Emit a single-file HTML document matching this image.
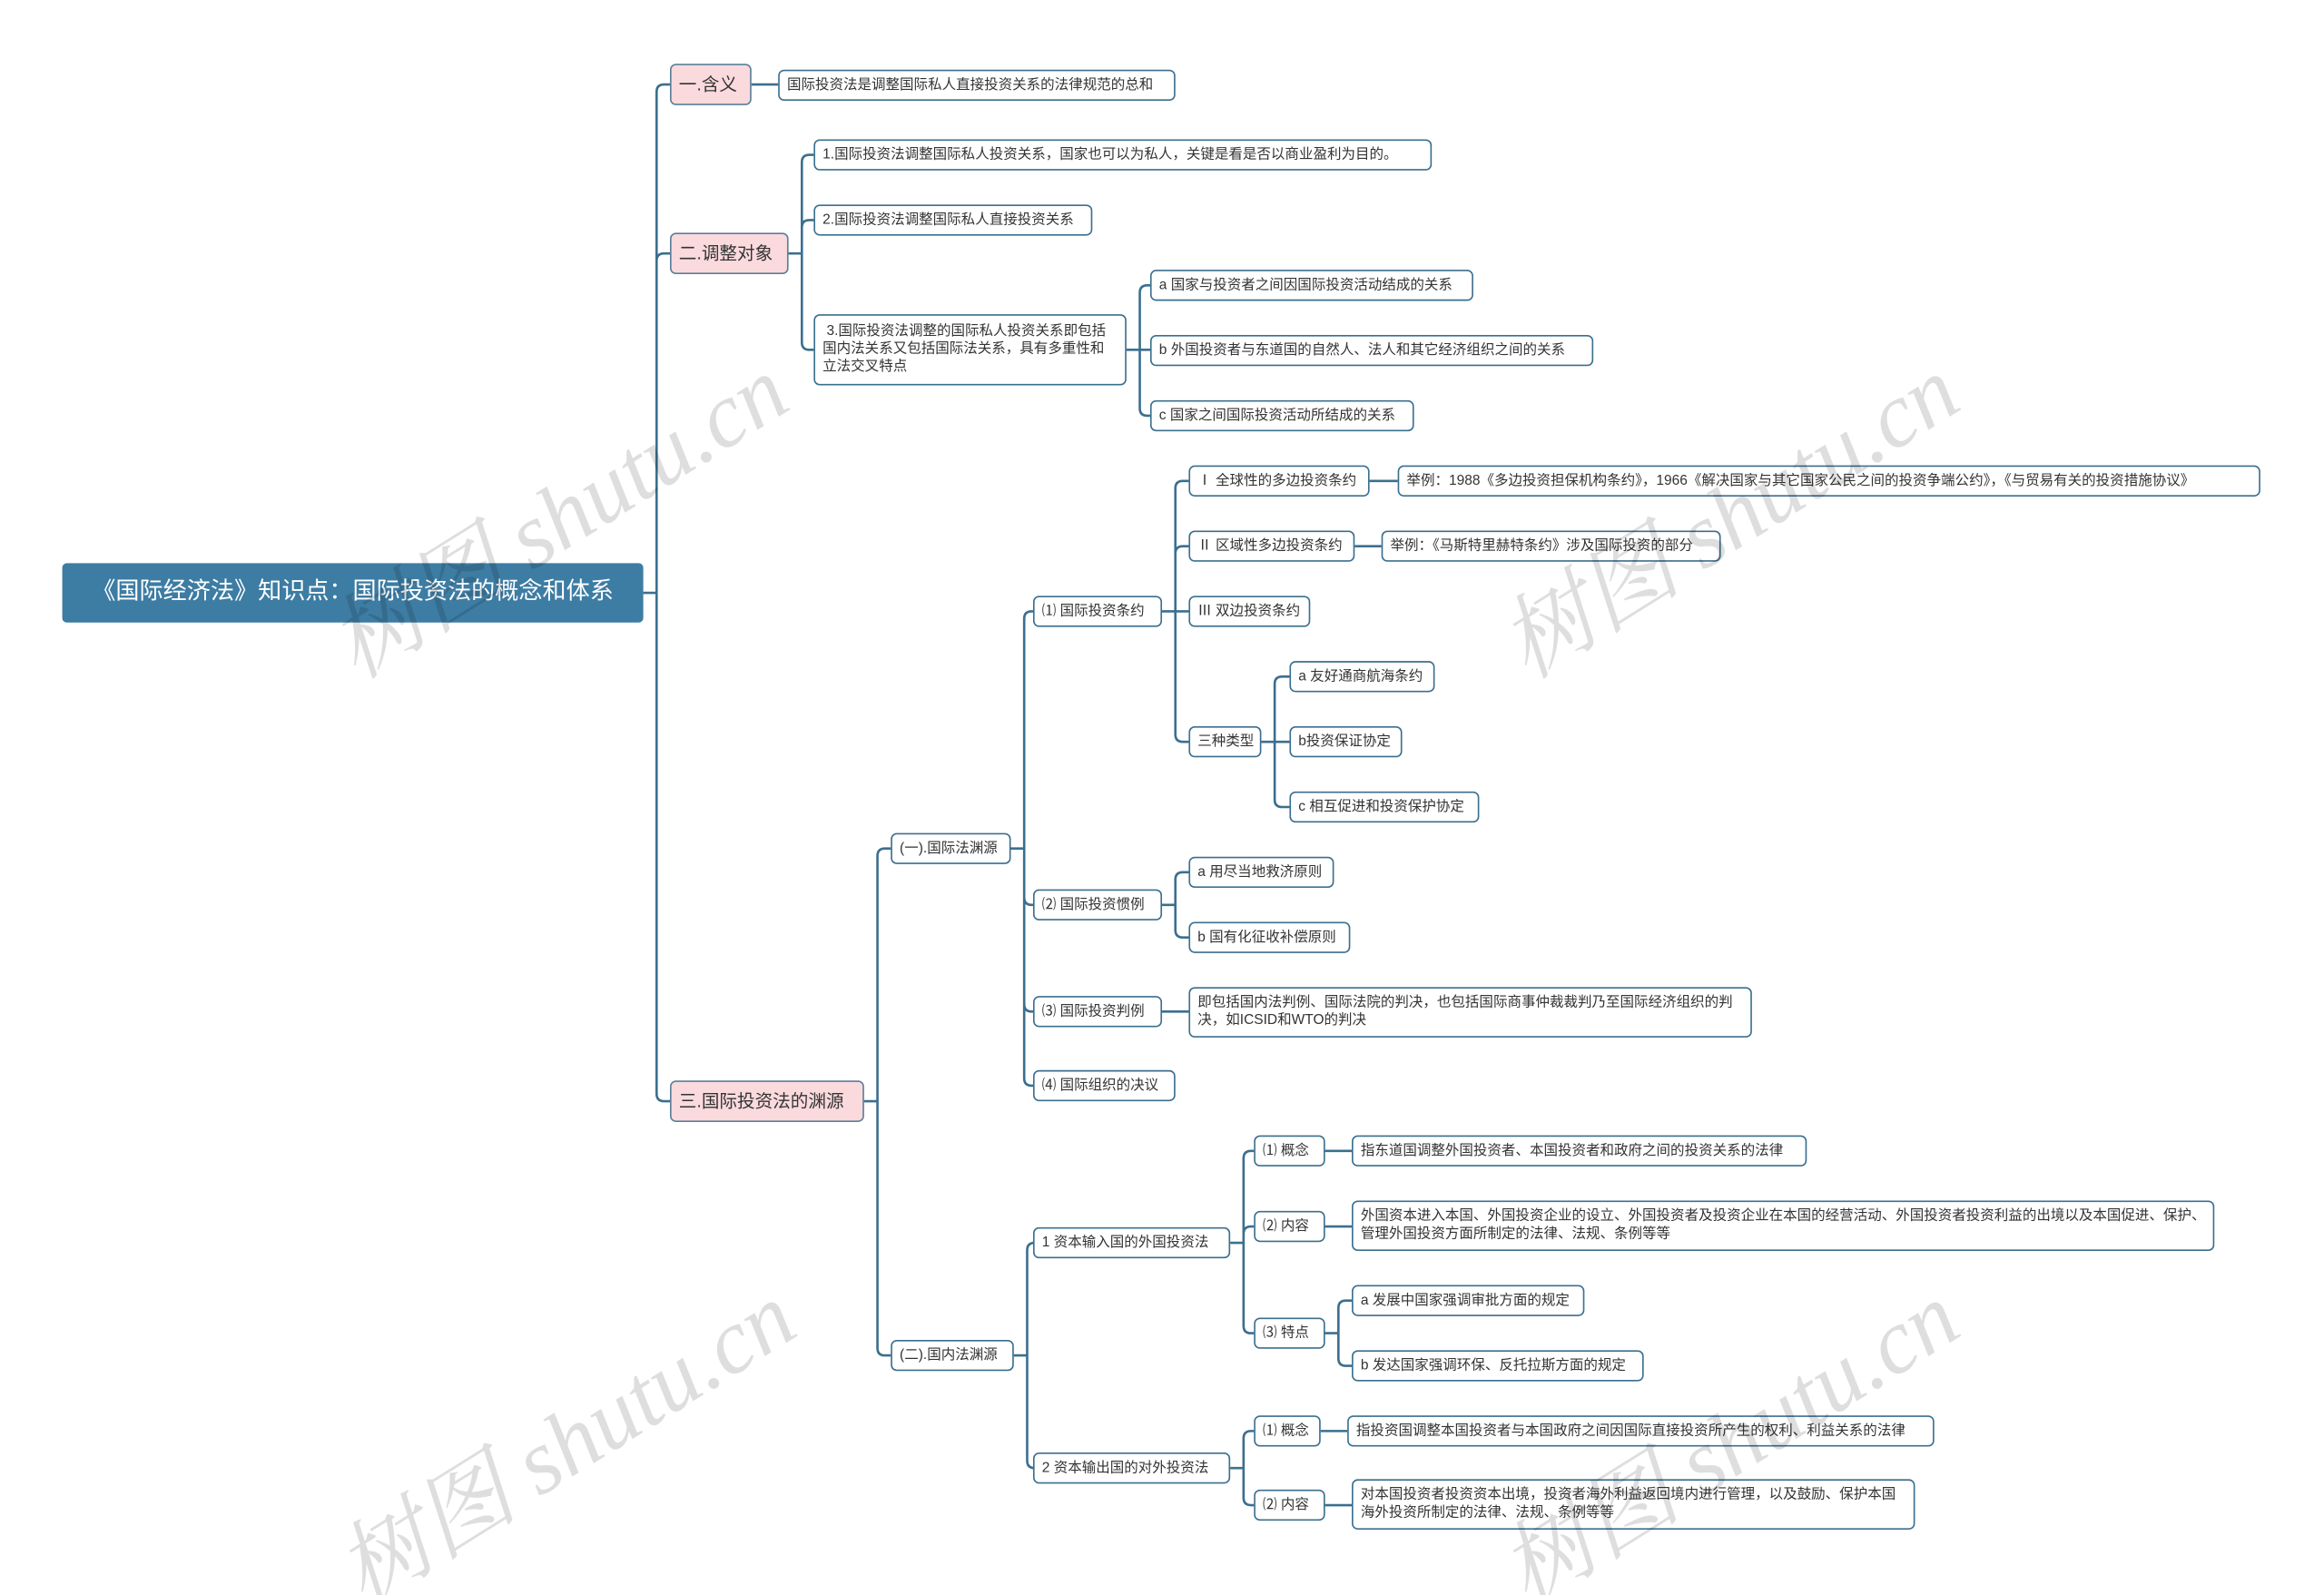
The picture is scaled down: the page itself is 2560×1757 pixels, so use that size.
<!DOCTYPE html>
<html><head><meta charset="utf-8">
<style>
html,body{margin:0;padding:0;background:#fff;}
#wrap{position:absolute;left:0;top:0;width:2560px;height:1757px;overflow:hidden;}
#c{position:absolute;left:0;top:0;width:1568px;height:1076px;transform:scale(1.6327);transform-origin:0 0;font-family:"Liberation Sans","Noto Sans CJK SC",sans-serif;}
.n{position:absolute;box-sizing:border-box;border:1px solid #3b6f8f;border-radius:4px;background:#fff;color:#333;font-size:9.5px;line-height:12px;padding:0 5px;display:flex;align-items:center;white-space:nowrap;}
.n.m{white-space:normal;}
.l1{background:#fadadd;font-size:12px;border-color:#5a7f99;}
.root{background:#3d7ca3;color:#fff;font-size:16px;border:none;justify-content:center;border-radius:3px;}
svg{position:absolute;left:0;top:0;}
.wm{position:absolute;font-family:"Liberation Serif","Noto Serif CJK SC",serif;font-style:italic;font-size:62px;color:rgba(0,0,0,0.13);transform:rotate(-32deg);white-space:nowrap;transform-origin:center;}
</style></head><body>
<div id="wrap"><div id="c">
<svg id="s" width="1568" height="1076"></svg>
</div></div>
<script>
var N=[
["r",42,380,434,420,"《国际经济法》知识点：国际投资法的概念和体系","root"],
["a",452,43,507,71,"一.含义","l1"],
["b",452,157,532,185,"二.调整对象","l1"],
["c",452,729,583,757,"三.国际投资法的渊源","l1"],
["a1",525,47,793,68,"国际投资法是调整国际私人直接投资关系的法律规范的总和"],
["b1",549,94,966,115,"1.国际投资法调整国际私人投资关系，国家也可以为私人，关键是看是否以商业盈利为目的。"],
["b2",549,138,737,159,"2.国际投资法调整国际私人直接投资关系"],
["b3",549,212,760,260,"&nbsp;3.国际投资法调整的国际私人投资关系即包括国内法关系又包括国际法关系，具有多重性和立法交叉特点","m"],
["b3a",776,182,994,203,"a 国家与投资者之间因国际投资活动结成的关系"],
["b3b",776,226,1075,247,"b 外国投资者与东道国的自然人、法人和其它经济组织之间的关系"],
["b3c",776,270,954,291,"c 国家之间国际投资活动所结成的关系"],
["c1",601,562,682,583,"(一).国际法渊源"],
["c11",697,402,784,423,"⑴ 国际投资条约"],
["c111",802,314,924,335,"Ⅰ 全球性的多边投资条约"],
["c111a",943,314,1525,335,"举例：1988《多边投资担保机构条约》，1966《解决国家与其它国家公民之间的投资争端公约》，《与贸易有关的投资措施协议》"],
["c112",802,358,914,379,"Ⅱ 区域性多边投资条约"],
["c112a",932,358,1161,379,"举例：《马斯特里赫特条约》涉及国际投资的部分"],
["c113",802,402,884,423,"Ⅲ 双边投资条约"],
["c114",802,490,851,511,"三种类型"],
["c114a",870,446,968,467,"a 友好通商航海条约"],
["c114b",870,490,946,511,"b投资保证协定"],
["c114c",870,534,998,555,"c 相互促进和投资保护协定"],
["c12",697,600,784,621,"⑵ 国际投资惯例"],
["c12a",802,578,900,599,"a 用尽当地救济原则"],
["c12b",802,622,911,643,"b 国有化征收补偿原则"],
["c13",697,672,784,693,"⑶ 国际投资判例"],
["c13a",802,666,1182,700,"即包括国内法判例、国际法院的判决，也包括国际商事仲裁裁判乃至国际经济组织的判决，如ICSID和WTO的判决","m"],
["c14",697,722,793,743,"⑷ 国际组织的决议"],
["c2",601,904,684,925,"(二).国内法渊源"],
["c21",697,828,830,849,"1 资本输入国的外国投资法"],
["c211",846,766,894,787,"⑴ 概念"],
["c211a",912,766,1219,787,"指东道国调整外国投资者、本国投资者和政府之间的投资关系的法律"],
["c212",846,817,894,838,"⑵ 内容"],
["c212a",912,810,1494,844,"外国资本进入本国、外国投资企业的设立、外国投资者及投资企业在本国的经营活动、外国投资者投资利益的出境以及本国促进、保护、管理外国投资方面所制定的法律、法规、条例等等","m"],
["c213",846,889,894,910,"⑶ 特点"],
["c213a",912,867,1069,888,"a 发展中国家强调审批方面的规定"],
["c213b",912,911,1109,932,"b 发达国家强调环保、反托拉斯方面的规定"],
["c22",697,980,830,1001,"2 资本输出国的对外投资法"],
["c221",846,955,891,976,"⑴ 概念"],
["c221a",909,955,1305,976,"指投资国调整本国投资者与本国政府之间因国际直接投资所产生的权利、利益关系的法律"],
["c222",846,1005,894,1026,"⑵ 内容"],
["c222a",912,998,1292,1032,"对本国投资者投资资本出境，投资者海外利益返回境内进行管理，以及鼓励、保护本国海外投资所制定的法律、法规、条例等等","m"]
];
var E={r:["a","b","c"],a:["a1"],b:["b1","b2","b3"],b3:["b3a","b3b","b3c"],c:["c1","c2"],c1:["c11","c12","c13","c14"],
c11:["c111","c112","c113","c114"],c111:["c111a"],c112:["c112a"],c114:["c114a","c114b","c114c"],c12:["c12a","c12b"],c13:["c13a"],
c2:["c21","c22"],c21:["c211","c212","c213"],c211:["c211a"],c212:["c212a"],c213:["c213a","c213b"],c22:["c221","c222"],c221:["c221a"],c222:["c222a"]};
var M={},c=document.getElementById('c');
N.forEach(function(d){M[d[0]]=d;var e=document.createElement('div');e.className='n '+(d[6]||'');
e.style.left=d[1]+'px';e.style.top=d[2]+'px';e.style.width=(d[3]-d[1])+'px';e.style.height=(d[4]-d[2])+'px';e.innerHTML=d[5];c.appendChild(e);});
var p='';
for(var k in E){var P=M[k],py=(P[2]+P[4])/2,tx=(k=='r')?443:P[3]+(E[k].length>1?9:0);
 if(E[k].length==1){var C=M[E[k][0]];p+='M'+P[3]+' '+py+'H'+C[1];continue;}
 p+='M'+P[3]+' '+py+'H'+tx;
 E[k].forEach(function(id){var C=M[id],cy=(C[2]+C[4])/2,r=Math.min(5,Math.abs(cy-py));
  if(Math.abs(cy-py)<1){p+='M'+tx+' '+py+'H'+C[1];return;}
  var s=cy>py?1:-1;p+='M'+tx+' '+py+'V'+(cy-s*r)+'Q'+tx+' '+cy+' '+(tx+r)+' '+cy+'H'+C[1];});}
document.getElementById('s').innerHTML='<path d="'+p+'" fill="none" stroke="#3b6f8f" stroke-width="1.6"/>';
[[200,300],[990,300],[205,925],[990,925]].forEach(function(q){var w=document.createElement('div');w.className='wm';w.textContent='树图 shutu.cn';w.style.left=q[0]+'px';w.style.top=q[1]+'px';c.appendChild(w);});
</script>
</body></html>
